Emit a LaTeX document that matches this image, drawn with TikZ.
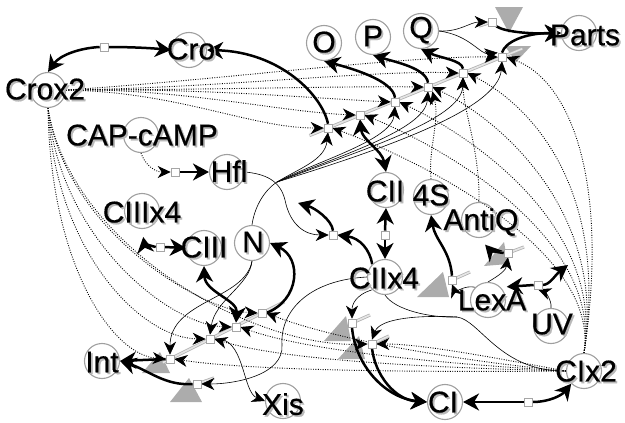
\documentclass[tikz,border=0pt]{standalone}
\usepackage{fontspec}
\setmainfont{Liberation Sans}
\newfontfamily\namefont{Liberation Sans}[FakeBold=0.5]
\usetikzlibrary{arrows.meta,backgrounds}

\newcommand{\plabel}[2]{\node[name text] at (#1) {\makebox[0pt][l]{\kern1.8pt\raisebox{-1.8pt}{\textcolor{gray!55}{#2}}}#2};}

\begin{document}
\begin{tikzpicture}[x=1pt,y=-1pt,
    place node/.style={circle,draw=gray!75,line width=1.1pt,minimum size=35pt,inner sep=0pt},
    trans node/.style={rectangle,draw=gray!70,fill=white,line width=0.6pt,minimum size=8pt,inner sep=0pt},
    name text/.style={font=\namefont\fontsize{30}{30}\selectfont,inner sep=0pt},
    thick arc/.style={line width=2.5pt,-{Stealth[length=16pt,width=17pt,inset=5pt]}},
    both arc/.style={line width=2.5pt,{Stealth[length=16pt,width=17pt,inset=5pt]}-{Stealth[length=16pt,width=17pt,inset=5pt]}},
    thin arc/.style={line width=0.6pt,-{Stealth[length=13pt,width=12pt,inset=4pt]}},
    thin line/.style={line width=0.6pt},
    dot arc/.style={line width=0.9pt,dash pattern=on 0.9pt off 1.5pt,-{Stealth[length=13pt,width=12pt,inset=4pt]}},
    gene/.style={draw=gray!60,line width=0.8pt,double=gray!20,double distance=1.6pt},
    sink/.style={fill=gray!65}]
\useasboundingbox (0,0) rectangle (625,423);

% places
\node[place node] (cro) at (189,50) {};
\node[place node] (crox2) at (48,90) {};
\node[place node] (capcamp) at (141,135) {};
\node[place node] (hfl) at (227,172) {};
\node[place node] (ciiix4) at (142,211) {};
\node[place node] (ciii) at (204,248) {};
\node[place node] (n) at (252,243) {};
\node[place node] (int) at (102,361) {};
\node[place node] (xis) at (283,401) {};
\node[place node] (o) at (324,43) {};
\node[place node] (p) at (373,37) {};
\node[place node] (q) at (421,31) {};
\node[place node] (parts) at (579,33) {};
\node[place node] (cii) at (386,190) {};
\node[place node] (s4) at (431,197) {};
\node[place node] (antiq) at (479,220) {};
\node[place node] (ciix4) at (385,277) {};
\node[place node] (lexa) at (488,300) {};
\node[place node] (uv) at (551,326) {};
\node[place node] (cix2) at (584,371) {};
\node[place node] (ci) at (445,402) {};

% transitions
\node[trans node] (tcro) at (104,47) {};
\node[trans node] (t1) at (328,128) {};
\node[trans node] (t2) at (360,115) {};
\node[trans node] (t3) at (395,102) {};
\node[trans node] (t4) at (428,87) {};
\node[trans node] (t5) at (463,73) {};
\node[trans node] (t6) at (502,57) {};
\node[trans node] (ttop) at (492,22) {};
\node[trans node] (tcap) at (175,172) {};
\node[trans node] (tciii) at (160,247) {};
\node[trans node] (l1) at (170,359) {};
\node[trans node] (l2) at (210,339) {};
\node[trans node] (l3) at (236,327) {};
\node[trans node] (l4) at (262,313) {};
\node[trans node] (lint) at (197,384) {};
\node[trans node] (tdeg) at (333,235) {};
\node[trans node] (tcii) at (385,235) {};
\node[trans node] (tanti) at (452,280) {};
\node[trans node] (tanti2) at (508,253) {};
\node[trans node] (tlexa) at (538,285) {};
\node[trans node] (tc1) at (352,323) {};
\node[trans node] (tc2) at (372,344) {};
\node[trans node] (tci) at (528,402) {};

\coordinate (fan) at (277,182);
\coordinate (join) at (457,317);
\coordinate (out1) at (298,203);
\coordinate (out2) at (568,265);

\begin{scope}[on background layer]
% degradation triangles
\fill[sink] (495,7) -- (523,7) -- (509,33) -- cycle;
\fill[sink] (505,46) -- (531,46) -- (516,62) -- cycle;
\fill[sink] (142,373) -- (170,373) -- (160,352) -- cycle;
\fill[sink] (170,402) -- (202,402) -- (189,378) -- cycle;
\fill[sink] (417,297) -- (449,297) -- (443,272) -- cycle;
\fill[sink] (484,266) -- (508,264) -- (504,242) -- cycle;
\fill[sink] (324,341) -- (351,341) -- (346,316) -- cycle;
\fill[sink] (338,359) -- (365,359) -- (359,336) -- cycle;

% gene lines
\draw[gene,shorten <=-20pt,shorten >=-22pt] (t1.center) -- (t6.center);
\draw[gene,shorten <=-8pt,shorten >=-25pt] (l1.center) -- (l4.center);
\draw[gene] (tanti.center) -- ++(18,-8);
\draw[gene] (tanti2.center) -- ++(16,-6);
\draw[gene] (tc1.center) -- ++(18,-8);
\draw[gene] (tc2.center) -- ++(17,-8);
\draw[gene] (lint.center) -- ++(17,-6);
\draw[gene] (ttop.center) -- ++(-13,4);

% dotted: Crox2
\draw[dot arc] (crox2.east) .. controls (180,92) and (250,128) .. (t1.west);
\draw[dot arc] (crox2.east) .. controls (180,88) and (280,112) .. (t2.west);
\draw[dot arc] (crox2.east) .. controls (200,88) and (310,98) .. (t3.west);
\draw[dot arc] (crox2.east) .. controls (200,90) and (340,86) .. (t4.west);
\draw[dot arc] (crox2.east) .. controls (220,88) and (370,70) .. (t5.west);
\draw[dot arc] (crox2.east) .. controls (220,80) and (400,56) .. (t6.west);
\draw[dot arc] (crox2.south) .. controls (50,260) and (110,355) .. (l1.west);
\draw[dot arc] (crox2.south) .. controls (55,250) and (140,338) .. (l2.west);
\draw[dot arc] (crox2.south) .. controls (60,240) and (170,325) .. (l3.west);
\draw[dot arc] (crox2.south) .. controls (65,230) and (200,310) .. (l4.west);
\draw[dot arc] (crox2.south) .. controls (70,245) and (250,348) .. (tc2.west);
% dotted: CIx2
\draw[dot arc] (cix2.north) .. controls (600,250) and (420,160) .. (t1.east);
\draw[dot arc] (cix2.north) .. controls (602,240) and (450,150) .. (t2.east);
\draw[dot arc] (cix2.north) .. controls (604,230) and (480,140) .. (t3.east);
\draw[dot arc] (cix2.north) .. controls (606,220) and (510,125) .. (t4.east);
\draw[dot arc] (cix2.north) .. controls (608,200) and (540,110) .. (t5.east);
\draw[dot arc] (cix2.north) .. controls (610,180) and (570,80) .. (t6.east);
\draw[dot arc] (cix2.west) .. controls (450,372) and (260,372) .. (l1.east);
\draw[dot arc] (cix2.west) .. controls (450,368) and (290,362) .. (l2.east);
\draw[dot arc] (cix2.west) .. controls (450,364) and (310,352) .. (l3.east);
\draw[dot arc] (cix2.west) .. controls (450,360) and (330,338) .. (l4.east);
\draw[dot arc] (cix2.west) .. controls (480,355) and (420,344) .. (tc2.east);
% dotted: others
\draw[dot arc] (capcamp.south) .. controls (145,165) and (155,172) .. (tcap.west);
\draw[dot arc] (s4.north) .. controls (428,150) and (440,120) .. (t4.south east);
\draw[dot arc] (antiq.north) .. controls (480,150) and (463,110) .. (t5.south);

% thin arcs
\draw[thin line] (n.north) .. controls (254,210) and (262,192) .. (fan);
\draw[thin arc] (fan) .. controls (300,168) and (325,160) .. (t1.south);
\draw[thin arc] (fan) .. controls (320,160) and (392,140) .. (t3.south);
\draw[thin arc] (fan) .. controls (340,155) and (425,130) .. (t4.south);
\draw[thin arc] (fan) .. controls (360,150) and (462,120) .. (t5.south);
\draw[thin arc] (fan) .. controls (380,150) and (498,110) .. (t6.south);
\draw[thin arc] (n.south) .. controls (250,285) and (215,300) .. (l2.north);
\draw[thin arc] (n.south) .. controls (245,300) and (170,300) .. (l1.north);
\draw[thin arc] (hfl.east) .. controls (265,174) and (280,180) .. (285,200) .. controls (290,225) and (305,235) .. (tdeg.west);
\draw[thin arc] (l2.east) .. controls (245,335) and (242,392) .. (xis.west);
\draw[thin arc] (ciix4.west) .. controls (310,280) and (280,310) .. (282,345) .. controls (284,375) and (235,384) .. (lint.east);
\draw[thin arc] (q.east) .. controls (460,32) and (470,22) .. (ttop.west);
\draw[thin arc] (q.east) .. controls (470,35) and (480,55) .. (t6.north west);
\draw[thin arc] (uv.north) .. controls (552,300) and (545,292) .. (tlexa.south);
\draw[thin arc] (lexa.north west) .. controls (465,285) and (455,292) .. (tanti.south);
\draw[thin arc] (lexa.north) .. controls (500,275) and (506,270) .. (tanti2.south);
\draw[thin arc] (ciix4.south west) .. controls (355,295) and (352,305) .. (tc1.north);
\draw[thin arc] (cix2.west) .. controls (500,372) and (480,320) .. (join) .. controls (420,315) and (380,318) .. (tc2.north);
\draw[thin line] (ciix4.south) .. controls (395,310) and (430,318) .. (join);

% thick arcs
\draw[thick arc] (tcro.east) .. controls (130,47) and (150,48) .. (cro.west);
\draw[thick arc] (tcro.west) .. controls (80,48) and (60,55) .. (crox2.north);
\draw[thick arc] (t1.north) .. controls (322,95) and (280,52) .. (cro.east);
\draw[thick arc] (t3.north) .. controls (393,80) and (350,68) .. (o.south);
\draw[thick arc] (t4.north) .. controls (426,68) and (395,62) .. (p.south);
\draw[thick arc] (t5.north) .. controls (462,60) and (440,58) .. (q.south);
\draw[thick arc] (t6.north) .. controls (505,42) and (525,33) .. (parts.west);
\draw[thick arc] (ttop.south east) .. controls (505,32) and (530,34) .. (parts.west);
\draw[both arc] (t2.south) .. controls (362,140) and (382,150) .. (cii.north);
\draw[thick arc] (tcap.east) -- (hfl.west);
\draw[thick arc,shorten >=8pt] (tciii.west) .. controls (150,246) and (144,242) .. (ciiix4.south);
\draw[thick arc] (tciii.east) -- (ciii.west);
\draw[both arc] (l3.north) .. controls (238,300) and (205,292) .. (ciii.south);
\draw[thick arc] (l4.east) .. controls (300,300) and (302,258) .. (n.east);
\draw[thick arc] (l1.west) -- (int.east);
\draw[thick arc] (lint.west) .. controls (165,386) and (148,370) .. (int.east);
\draw[thick arc] (tdeg.north) .. controls (332,220) and (315,208) .. (out1);
\draw[thick arc] (ciix4.north west) .. controls (370,250) and (360,238) .. (tdeg.east);
\draw[thick arc] (tcii.north) -- (cii.south);
\draw[thick arc] (tcii.south) -- (ciix4.north);
\draw[thick arc] (tanti.north) .. controls (450,250) and (435,240) .. (s4.south);
\draw[thick arc,shorten >=9pt] (tanti2.west) .. controls (495,252) and (490,250) .. (antiq.south);
\draw[thick arc,shorten >=6pt] (tlexa.west) -- (lexa.north east);
\draw[thick arc] (tlexa.east) .. controls (550,285) and (555,275) .. (out2);
\draw[thick arc] (tc1.south) .. controls (355,365) and (385,398) .. (ci.west);
\draw[thick arc] (tc2.south) .. controls (375,375) and (395,400) .. (ci.west);
\draw[thick arc] (tci.west) -- (ci.east);
\draw[thick arc] (tci.east) .. controls (550,402) and (562,395) .. (cix2.south west);
\end{scope}

% names
\plabel{191,50}{Cro}
\plabel{45,90}{Crox2}
\plabel{142,136}{CAP-cAMP}
\plabel{229,172}{Hfl}
\plabel{142,213}{CIIIx4}
\plabel{204,248}{CIII}
\plabel{253,243}{N}
\plabel{102,363}{Int}
\plabel{283,405}{Xis}
\plabel{324,43}{O}
\plabel{373,37}{P}
\plabel{421,31}{Q}
\plabel{585,36}{Parts}
\plabel{385,192}{CII}
\plabel{431,196}{4S}
\plabel{481,223}{AntiQ}
\plabel{384,279}{CIIx4}
\plabel{492,301}{LexA}
\plabel{552,325}{UV}
\plabel{586,372}{CIx2}
\plabel{443,403}{CI}
\end{tikzpicture}
\end{document}
